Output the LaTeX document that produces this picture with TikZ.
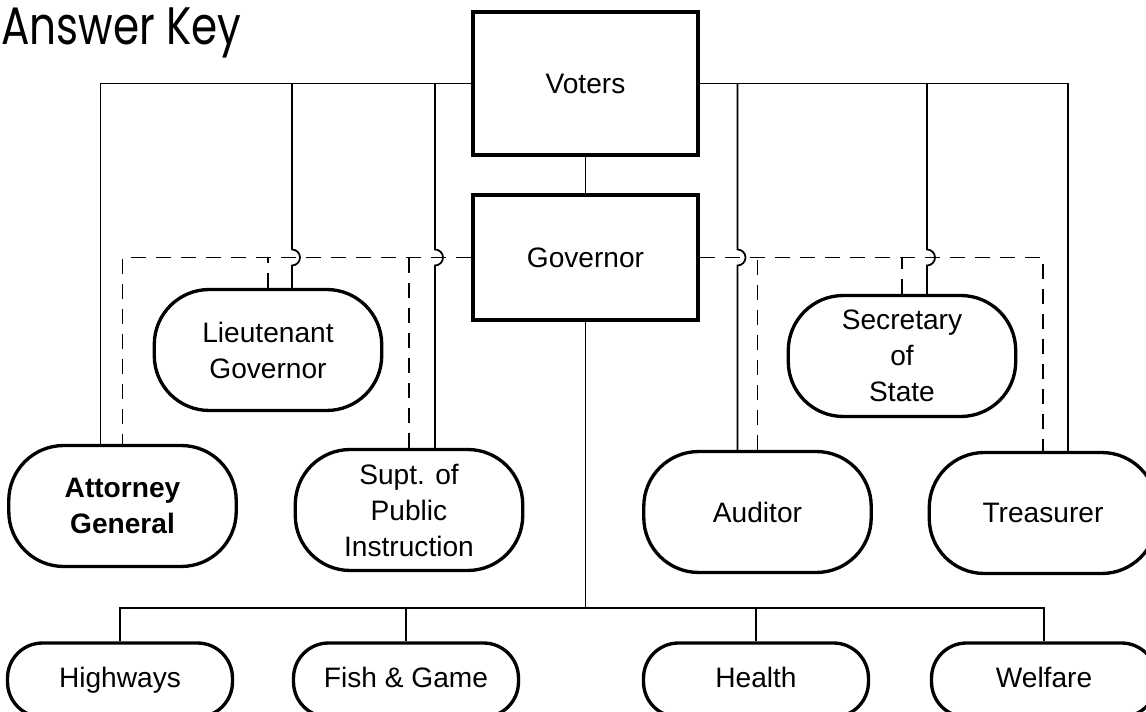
\documentclass[tikz,border=0pt]{standalone}
\usepackage{fontspec}
\setmainfont{Liberation Sans}
\newfontfamily\titlefont[FakeStretch=0.8]{Poppins}
\usepackage{tikz}
\usetikzlibrary{positioning, calc}

\begin{document}
\begin{tikzpicture}[x=0.02cm, y=-0.02cm,
  office/.style={draw, line width=2.3pt, minimum width=4.5cm, minimum height=2.86cm,
    font=\fontsize{16}{20.5}\selectfont},
  elected/.style={draw, line width=1.9pt, rounded corners=1.1cm, minimum width=4.55cm,
    minimum height=2.42cm, align=center, inner sep=1pt, font=\fontsize{16}{20.5}\selectfont},
  dept/.style={elected, rounded corners=0.7cm, minimum width=4.5cm, minimum height=1.48cm,
    text height=11.5pt, text depth=3.5pt},
  link/.style={line width=1pt},
  linkdash/.style={line width=1.1pt, dash pattern=on 0.3cm off 0.2cm}]

  \useasboundingbox (0,0) rectangle (1146,712);
  \fill[white] (0,0) rectangle (1146,712);

  %% Title
  \node[font=\titlefont\fontsize{30}{30}\selectfont, anchor=base west, inner sep=0pt]
    (title) at (1,45) {Answer Key};

  %% Voters and Governor
  \node[office] (voters) at (585.5,83.5) {Voters};
  \node[office, minimum height=2.5cm] (governor) at (585.5,257.5) {Governor};

  %% Elected officers
  \node[elected, font=\fontsize{16}{20.5}\selectfont\bfseries] (ag) at (122.5,506) {Attorney\\General};
  \node[elected] (ltgov) at (268,350) {Lieutenant\\Governor};
  \node[elected] (supt) at (409,510) {Supt. of\\Public\\Instruction};
  \node[elected] (aud) at (757.5,512) {Auditor};
  \node[elected] (sec) at (902,356) {Secretary\\of\\State};
  \node[elected] (treas) at (1043,513) {Treasurer};

  %% Departments under the Governor
  \foreach \n/\x/\txt in {hw/120/Highways, fg/406/{Fish \& Game}, health/756/Health, welfare/1044/Welfare}{
    \node[dept] (\n) at (\x,680) {\txt};
  }

  %% where the voter lines meet the officers
  \coordinate (agtop) at ($(ag.north)+(-22,0)$);
  \coordinate (lttop) at ($(ltgov.north)+(24,0)$);
  \coordinate (supttop) at ($(supt.north)+(26,0)$);
  \coordinate (audtop) at ($(aud.north)+(-20,0)$);
  \coordinate (sectop) at ($(sec.north)+(25,0)$);
  \coordinate (treastop) at ($(treas.north)+(25,0)$);
  \coordinate (deptbus) at ($(governor.south)+(0,286)$);

  %% Voters -> officers (solid), hopping over the dashed lines
  \draw[link] (voters) -- (governor);
  \draw[link] (voters.west) -| (agtop);
  \draw[link] (lttop |- voters.west) -- ($(lttop |- governor.west)+(0,-8)$)
    arc[start angle=-90, end angle=90, radius=8] -- (lttop);
  \draw[link] (supttop |- voters.west) -- ($(supttop |- governor.west)+(0,-8)$)
    arc[start angle=-90, end angle=90, radius=8] -- (supttop);
  \draw[link] (voters.east) -| (treastop);
  \draw[link] (audtop |- voters.east) -- ($(audtop |- governor.east)+(0,-8)$)
    arc[start angle=-90, end angle=90, radius=8] -- (audtop);
  \draw[link] (sectop |- voters.east) -- ($(sectop |- governor.east)+(0,-8)$)
    arc[start angle=-90, end angle=90, radius=8] -- (sectop);

  %% Governor -> officers (dashed)
  \draw[linkdash] (governor.west) -| (ag.north);
  \draw[linkdash] (ltgov.north) -- (ltgov.north |- governor.west);
  \draw[linkdash] (supt.north) -- (supt.north |- governor.west);
  \draw[linkdash] (governor.east) -| (treas.north);
  \draw[linkdash] (aud.north) -- (aud.north |- governor.east);
  \draw[linkdash] (sec.north) -- (sec.north |- governor.east);

  %% Governor -> departments
  \draw[link] (governor.south) -- (deptbus);
  \draw[link] (hw.north) |- (deptbus) -| (welfare.north);
  \draw[link] (fg.north) -- (fg.north |- deptbus);
  \draw[link] (health.north) -- (health.north |- deptbus);

\end{tikzpicture}
\end{document}
